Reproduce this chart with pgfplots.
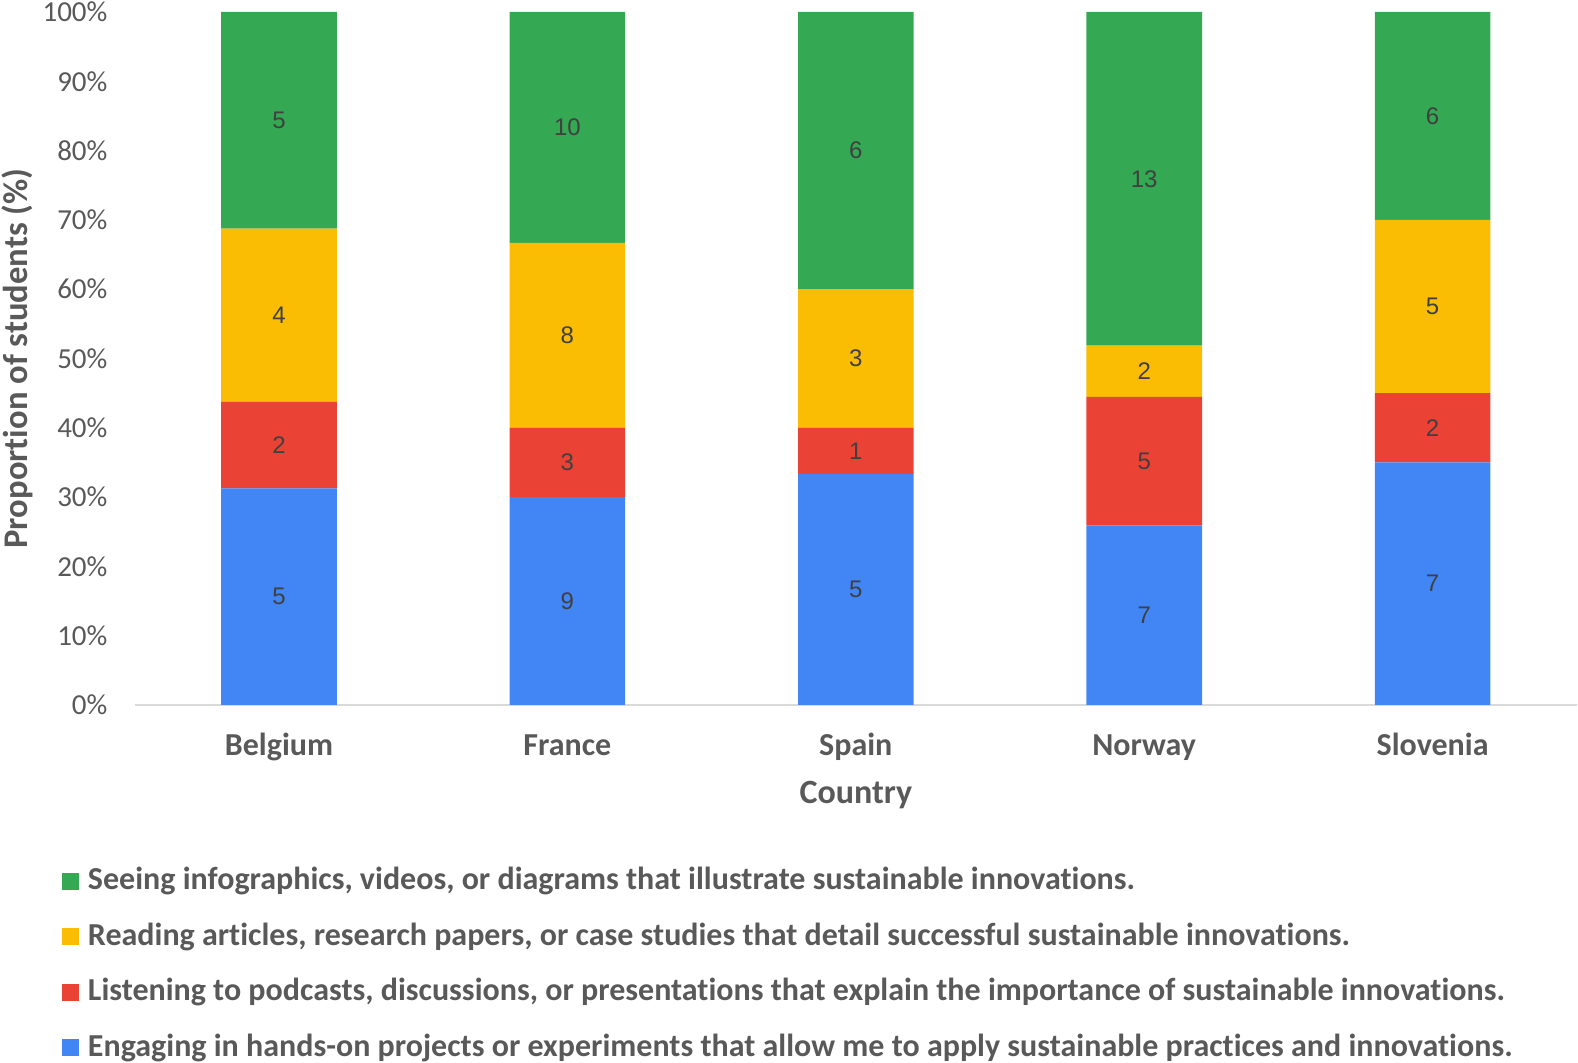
\documentclass[border=0pt]{standalone}
\usepackage{pgfplots}
\pgfplotsset{compat=1.18}
\usepackage{pgfplotstable}
\usepackage{fontspec}
\setmainfont{Carlito}[Ligatures=NoCommon]
\newfontfamily\arialf{Liberation Sans}
\definecolor{cblue}{HTML}{4285F4}
\definecolor{cred}{HTML}{EA4335}
\definecolor{cyel}{HTML}{FBBC04}
\definecolor{cgrn}{HTML}{34A853}
\definecolor{tgray}{HTML}{595959}
\definecolor{lgray}{HTML}{404040}
\definecolor{axgray}{HTML}{D9D9D9}

\pgfplotstableread{
x blue bn red rn yel yn grn gn
0 31.25 5 12.5 2 25 4 31.25 5
1 30 9 10 3 26.667 8 33.333 10
2 33.333 5 6.667 1 20 3 40 6
3 25.926 7 18.519 5 7.407 2 48.148 13
4 35 7 10 2 25 5 30 6
}\data

\begin{document}
\begin{tikzpicture}
\begin{axis}[
  at={(0pt,0pt)}, anchor=south west,
  scale only axis,
  width=721pt, height=346.5pt,
  ybar stacked,
  bar width=57.8pt,
  xmin=-0.5, xmax=4.5,
  ymin=0, ymax=100,
  enlarge x limits=false,
  enlarge y limits=false,
  xtick={0,1,2,3,4},
  xticklabels={Belgium,France,Spain,Norway,Slovenia},
  ytick={0,10,...,100},
  yticklabel={\pgfmathprintnumber{\tick}\%},
  /pgf/number format/assume math mode=true,
  major tick length=0pt,
  separate axis lines,
  axis x line*=bottom,
  axis y line*=left,
  x axis line style={draw=axgray, line width=1pt, -},
  y axis line style={draw=none},
  yticklabel style={font=\fontsize{14.5}{16}\selectfont, text=tgray, inner sep=0pt, anchor=east, xshift=-13.5pt},
  xticklabel style={font=\bfseries\fontsize{16}{18}\selectfont, text=tgray, anchor=base, yshift=-25pt},
  xlabel={Country},
  ylabel={Proportion of students (\%)},
  xlabel style={font=\bfseries\fontsize{17}{19}\selectfont, text=tgray, at={(axis description cs:0.5,0)}, anchor=base, yshift=-49pt},
  ylabel style={font=\bfseries\fontsize{17.3}{19}\selectfont, text=tgray, at={(axis description cs:0,0.5)}, anchor=center, yshift=58.6pt},
  nodes near coords,
  point meta=explicit symbolic,
  every node near coord/.append style={anchor=center, font=\arialf\fontsize{12}{14}\selectfont, text=lgray},
  reverse legend,
  legend cell align=left,
  legend style={at={(axis description cs:0,0)}, anchor=north west, xshift=-36.4pt, yshift=-82.3pt,
    draw=none, fill=none, inner sep=0pt, outer sep=0pt, row sep=14.8pt, column sep=4.5pt,
    font=\bfseries\fontsize{16}{18}\selectfont, text=tgray,
    nodes={inner sep=0pt, text height=10pt, text depth=3pt}},
  legend image code/.code={\fill[#1] (0pt,-3.5pt) rectangle (8.5pt,5pt);},
]
\addplot[fill=cblue, draw=none] table[x=x, y=blue, meta=bn] {\data};
\addlegendentry{Engaging in hands-on projects or experiments that allow me to apply sustainable practices and innovations.}
\addplot[fill=cred, draw=none] table[x=x, y=red, meta=rn] {\data};
\addlegendentry{Listening to podcasts, discussions, or presentations that explain the importance of sustainable innovations.}
\addplot[fill=cyel, draw=none] table[x=x, y=yel, meta=yn] {\data};
\addlegendentry{Reading articles, research papers, or case studies that detail successful sustainable innovations.}
\addplot[fill=cgrn, draw=none] table[x=x, y=grn, meta=gn] {\data};
\addlegendentry{Seeing infographics, videos, or diagrams that illustrate sustainable innovations.}
\end{axis}
\pgfresetboundingbox
\path[use as bounding box] (-67.4pt,-179pt) rectangle (721.6pt,352.5pt);
\end{tikzpicture}
\end{document}
